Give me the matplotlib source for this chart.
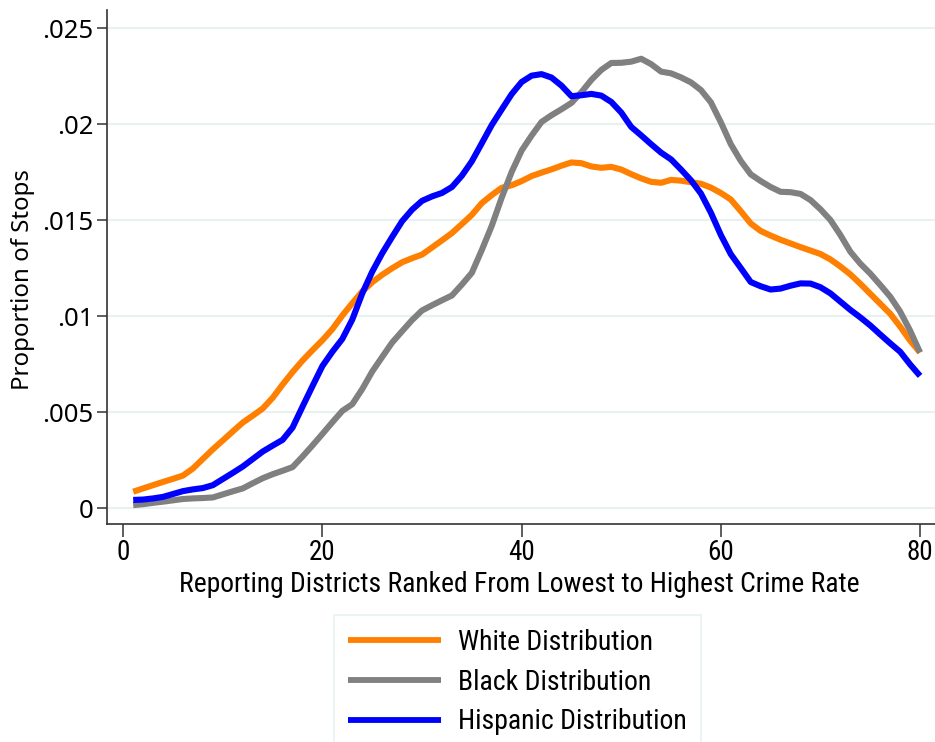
import matplotlib
matplotlib.use("Agg")
import matplotlib.pyplot as plt
from matplotlib import font_manager as fm
import numpy as np

# District rank (lowest to highest crime rate)
districts = np.arange(1, 81)

white = [
    .00085, .00102, .00119, .00136, .00152, .00169, .00206, .00256, .00306, .00352,
    .00399, .00445, .00481, .00518, .00574, .00643, .00708, .00768, .00822, .00874,
    .00932, .01003, .01067, .01128, .01176, .01215, .01249, .01280, .01301, .01320,
    .01357, .01394, .01432, .01479, .01527, .01588, .01630, .01668, .01681, .01703,
    .01729, .01747, .01764, .01783, .01800, .01796, .01779, .01772, .01777, .01763,
    .01739, .01717, .01699, .01694, .01709, .01705, .01697, .01689, .01669, .01641,
    .01607, .01546, .01482, .01443, .01419, .01397, .01378, .01359, .01341, .01323,
    .01295, .01258, .01217, .01168, .01116, .01064, .01012, .00945, .00872, .00810,
]

black = [
    .00015, .00020, .00027, .00033, .00040, .00047, .00050, .00052, .00055, .00071,
    .00087, .00102, .00129, .00155, .00176, .00194, .00213, .00268, .00326, .00386,
    .00447, .00506, .00541, .00620, .00711, .00787, .00862, .00921, .00979, .01029,
    .01056, .01082, .01107, .01164, .01225, .01344, .01470, .01617, .01751, .01862,
    .01940, .02011, .02046, .02077, .02110, .02166, .02230, .02282, .02318, .02319,
    .02325, .02340, .02312, .02273, .02264, .02243, .02217, .02177, .02113, .02009,
    .01895, .01808, .01738, .01703, .01672, .01647, .01645, .01636, .01604, .01556,
    .01500, .01422, .01335, .01273, .01221, .01162, .01101, .01023, .00924, .00810,
]

hispanic = [
    .00042, .00044, .00050, .00058, .00073, .00088, .00097, .00104, .00119, .00151,
    .00183, .00216, .00255, .00294, .00325, .00355, .00419, .00528, .00635, .00740,
    .00814, .00881, .00982, .01118, .01231, .01327, .01412, .01494, .01554, .01600,
    .01623, .01641, .01672, .01731, .01806, .01900, .01995, .02076, .02156, .02219,
    .02252, .02260, .02242, .02200, .02145, .02150, .02157, .02148, .02115, .02060,
    .01985, .01941, .01895, .01851, .01816, .01763, .01707, .01638, .01538, .01422,
    .01322, .01250, .01177, .01155, .01138, .01143, .01158, .01170, .01169, .01150,
    .01118, .01075, .01032, .00993, .00951, .00904, .00858, .00814, .00748, .00688,
]

series_labels = ["White Distribution", "Black Distribution", "Hispanic Distribution"]
series_colors = ["#ff8000", "#808080", "#0000ff"]

y_ticks = [0, .005, .01, .015, .02, .025]
y_tick_labels = ["0", ".005", ".01", ".015", ".02", ".025"]
x_ticks = [0, 20, 40, 60, 80]
x_tick_labels = ["0", "20", "40", "60", "80"]

# Pick a narrow face for the horizontal texts if one is installed
entries = fm.fontManager.ttflist
names = {f.name for f in entries}
narrow_family = None
for cand in ["Roboto Condensed", "Liberation Sans Narrow", "Open Sans Condensed",
             "Noto Sans Condensed", "DejaVu Sans Condensed"]:
    if cand in names:
        narrow_family = cand
        break
if narrow_family is not None:
    narrow_kw = dict(family=narrow_family)
elif any(f.name == "DejaVu Sans" and f.stretch == "condensed" for f in entries):
    narrow_kw = dict(family="DejaVu Sans", stretch="condensed")
else:
    narrow_kw = dict(family="Liberation Sans")

plt.rcParams["font.family"] = ["Noto Sans", "DejaVu Sans"]

W, H = 935, 742
AX_L, AX_R, AX_T, AX_B = 107.3, 935, 10, 524
fig = plt.figure(figsize=(W / 100, H / 100), dpi=100)
ax = fig.add_axes([AX_L / W, 1 - AX_B / H, (AX_R - AX_L) / W, (AX_B - AX_T) / H])
axw, axh = AX_R - AX_L, AX_B - AX_T

for vals, lab, col in zip([white, black, hispanic], series_labels, series_colors):
    ax.plot(districts, vals, color=col, lw=4.4, label=lab, solid_capstyle="butt",
            solid_joinstyle="round", zorder=3)

ax.set_xlim(-1.6, 81.5)
ax.set_ylim(-0.000833, 0.02594)

ax.set_yticks(y_ticks)
ax.set_yticklabels(y_tick_labels, fontsize=18.5)
ax.set_xticks(x_ticks)
ax.set_xticklabels(x_tick_labels, fontsize=19.5, **narrow_kw)

for s in ["top", "right"]:
    ax.spines[s].set_visible(False)
for s in ["left", "bottom"]:
    ax.spines[s].set_color("#333333")
    ax.spines[s].set_linewidth(1.2)

ax.tick_params(axis="y", length=7, width=1.1, color="#333333", pad=3)
ax.tick_params(axis="x", length=9, width=1.1, color="#333333", pad=2)

ax.grid(axis="y", color="#e8f0f2", lw=1.6, zorder=0)
ax.set_axisbelow(True)

ax.set_ylabel("Proportion of Stops", fontsize=17.3)
ax.yaxis.label.set_va("center")
ax.yaxis.set_label_coords((23 - AX_L) / axw, (AX_B - 280) / axh)

ax.set_xlabel("Reporting Districts Ranked From Lowest to Highest Crime Rate",
              fontsize=19.9, **narrow_kw)
ax.xaxis.label.set_va("center")
ax.xaxis.set_label_coords((519 - AX_L) / axw, -(584 - AX_B) / axh)

leg = fig.legend(loc="upper left", bbox_to_anchor=(334 / W, 1 - 615 / H),
                 prop=fm.FontProperties(size=20, **narrow_kw),
                 frameon=True, fancybox=False, handlelength=3.35, handletextpad=0.62,
                 labelspacing=0.46, borderpad=0.5, borderaxespad=0)
leg.get_frame().set_edgecolor("#e3eded")
leg.get_frame().set_linewidth(1.2)
for ln in leg.get_lines():
    ln.set_linewidth(4.2)

fig.savefig("out.png", dpi=100)
